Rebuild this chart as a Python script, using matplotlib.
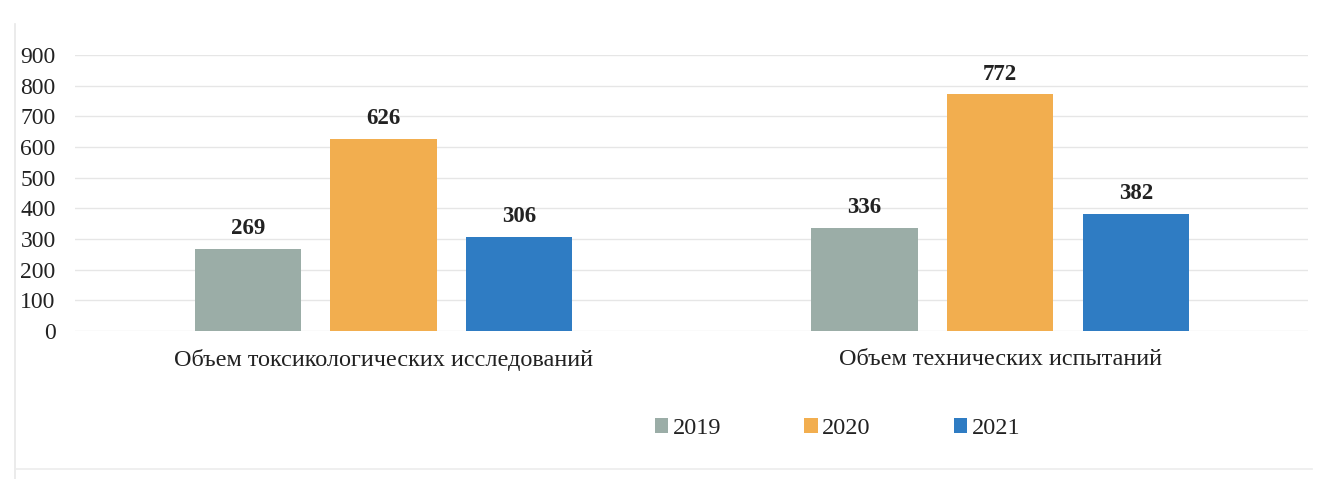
import matplotlib.pyplot as plt
import numpy as np
from matplotlib.lines import Line2D

categories = ["Объем токсикологических исследований", "Объем технических испытаний"]
years = ["2019", "2020", "2021"]
values_2019 = [269, 336]
values_2020 = [626, 772]
values_2021 = [306, 382]
yticks = [0, 100, 200, 300, 400, 500, 600, 700, 800, 900]

colors = ["#9bada7", "#f2ae4f", "#2f7cc3"]
series = [values_2019, values_2020, values_2021]

plt.rcParams['font.family'] = ['Liberation Serif', 'DejaVu Serif']

fig = plt.figure(figsize=(13.19, 4.79), dpi=100)
ax = fig.add_axes([0.057, 0.309, 0.935, 0.576])

x = np.arange(len(categories))
width = 0.172
step = 0.22
for i, (vals, col, yr) in enumerate(zip(series, colors, years)):
    pos = x + (i - 1) * step
    bars = ax.bar(pos, vals, width=width, color=col, label=yr, zorder=2)
    for b, v in zip(bars, vals):
        ax.text(b.get_x() + b.get_width() / 2, v + 32, str(v),
                ha='center', va='bottom', fontsize=16.5, fontweight='bold',
                color='#222222')

ax.set_xlim(-0.5, 1.5)
ax.set_ylim(0, 900)
ax.set_yticks(yticks)
ax.set_yticklabels([str(t) for t in yticks], fontsize=17, color='#222222')
ax.set_xticks(x)
ax.set_xticklabels(categories, fontsize=17.5, color='#222222')
ax.tick_params(axis='both', length=0)
ax.tick_params(axis='y', pad=14)
ax.tick_params(axis='x', pad=13)
ax.yaxis.grid(True, color='#e6e6e6', linewidth=1)
ax.set_axisbelow(True)
for s in ax.spines.values():
    s.set_visible(False)

leg = fig.legend(loc='center', bbox_to_anchor=(0.635, 0.105), ncol=3,
                 frameon=False, fontsize=17.5, handlelength=0.55,
                 handleheight=0.55, handletextpad=0.2, columnspacing=3.4)
for t in leg.get_texts():
    t.set_color('#222222')

# faint chart-area border
fig.add_artist(Line2D([0.011, 0.011], [0.0, 0.95], transform=fig.transFigure,
                      color='#e8e8e8', linewidth=1.2))
fig.add_artist(Line2D([0.011, 0.995], [0.02, 0.02], transform=fig.transFigure,
                      color='#ececec', linewidth=1.2))

fig.savefig("out.png", dpi=100, facecolor='white')
